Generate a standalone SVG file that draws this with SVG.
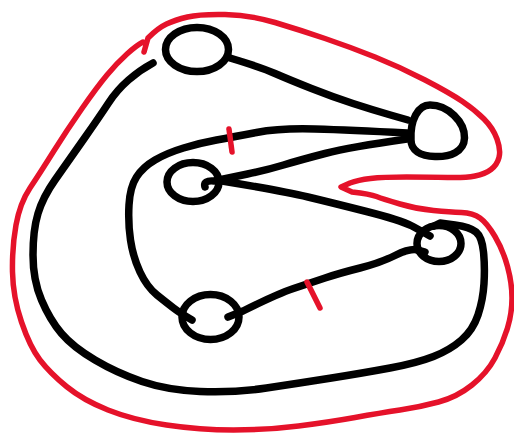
<svg xmlns="http://www.w3.org/2000/svg" width="514" height="434" viewBox="0 0 514 434">
<style>
.k{fill:none;stroke:#000;stroke-width:7.5;stroke-linecap:round;stroke-linejoin:round}
.r{fill:none;stroke:#e5122a;stroke-width:5.5;stroke-linecap:round;stroke-linejoin:round}
</style>
<rect width="514" height="434" fill="#fff"/>
<path class="r" d="M144,52 L148,38 Q158,28 166.5,24 Q175,20 187.5,17 Q200,14 225,14.5 Q250,15 275,22.5 Q300,30 325,38.5 Q350,47 375,57 Q400,67 425,80 Q450,93 462.5,101.5 Q475,110 484,119 Q493,128 497,139 Q501,150 499,157.5 Q497,165 491,169.5 Q485,174 475,176 Q465,178 447.5,177.5 Q430,177 406.5,177 Q383,177 370.5,178.5 Q358,180 350,183 L341,187 L352,192 Q370,194 376.5,196.5 Q383,199 400,204 Q417,209 433.5,210.5 Q450,212 461.5,212.5 Q473,213 480,218 Q487,223 495,236.5 Q503,250 507.5,266.5 Q512,283 512,298 Q512,313 507.5,328 Q503,343 495,358 Q487,373 472,385 Q457,397 438.5,402 Q420,407 400,410 Q380,413 355,417.5 Q330,422 298.5,426 Q267,430 233.5,430 Q200,430 166.5,425 Q133,420 108,410 Q83,400 66.5,386.5 Q50,373 40,360 Q30,347 21.5,322 Q13,297 12.5,272 Q12,247 16,225 Q20,203 30,188 Q40,173 53.5,151.5 Q67,130 82,108.5 Q97,87 107,75 Q117,63 127,54 Q137,45 143,42"/>
<g id="connectors">
<path class="k" d="M153,63 Q140,70 128.5,80 Q117,90 108.5,103 Q100,116 83.5,139.5 Q67,163 55,180 Q43,197 38,213.5 Q33,230 33,255 Q33,280 41.5,300 Q50,320 61.5,333.5 Q73,347 95,360 Q117,373 142,381.5 Q167,390 200,391.5 Q233,393 266.5,388 Q300,383 331.5,378 Q363,373 390,368 Q417,363 433.5,356.5 Q450,350 461.5,340 Q473,330 478,315 Q483,300 484,283.5 Q485,267 483.5,252 Q482,237 476,232 Q470,227 455,225 L440,223 L434,226"/>
<path class="k" d="M230,58 Q260,67 275,73.5 Q290,80 311.5,88.5 Q333,97 353,103.5 Q373,110 390.5,115 L408,120"/>
<path class="k" d="M407,133 Q350,130 315,129 Q280,128 256.5,132.5 Q233,137 216.5,140 Q200,143 183.5,148 Q167,153 155,160 Q143,167 136.5,177 Q130,187 129,205 Q128,223 130.5,240 Q133,257 140,272 Q147,287 157,295 Q167,303 173.5,308 Q180,313 192,320"/>
<path class="k" d="M407,139 Q350,147 325,153.5 Q300,160 283.5,165 Q267,170 247.5,174 Q228,178 214,181 Q203,180 205,187"/>
<path class="k" d="M222,181 Q283,191 308,197 Q333,203 366.5,211.5 Q400,220 412,226 Q423,232 430,236"/>
<path class="k" d="M228,317 L243,311 Q277,294 293.5,288.5 Q310,283 325,278 Q340,273 360,268 Q380,263 395,255.5 Q410,248 418,250 L425,252"/>
<path class="r" d="M229,129 L232,152"/>
<path class="r" d="M307,282 L320,308"/>
</g>
<g id="nodeA"><ellipse class="k" cx="197" cy="49.5" rx="31.5" ry="22"/></g>
<g id="nodeB"><path class="k" d="M411,140 C410,120 418,105 430,105 C448,105 465,122 464.5,138 C464,152 450,157 435,156.5 C420,156 411,150 411,140 Z"/></g>
<g id="nodeC"><ellipse class="k" cx="193" cy="182" rx="26" ry="19.5"/></g>
<g id="nodeD"><ellipse class="k" cx="439" cy="243.5" rx="22" ry="18"/></g>
<g id="nodeE"><ellipse class="k" cx="210.5" cy="317" rx="28.5" ry="22.5"/></g>
</svg>
